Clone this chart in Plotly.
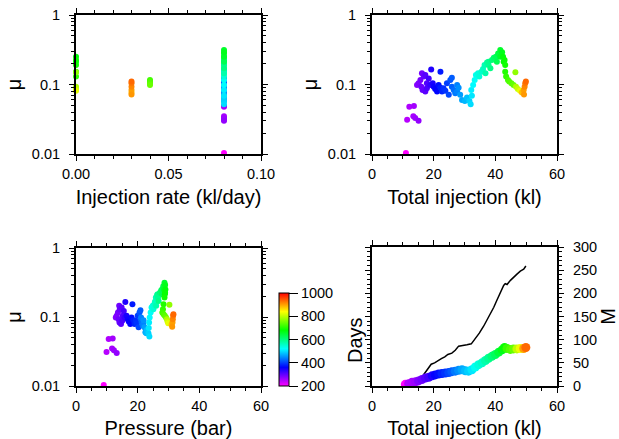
import plotly.graph_objects as go

# ---- event data (one entry per earthquake) ----
total_kl = [11.0, 11.4, 12.1, 13.6, 13.4, 14.0, 15.1, 14.6, 15.1, 15.7, 16.2, 16.8, 16.0, 16.4, 17.3, 17.3,
            17.8, 17.8, 18.4, 18.9, 19.2, 19.7, 20.0, 20.5, 21.1, 21.6, 22.2, 22.2, 22.7, 23.2, 23.8, 24.3,
            24.9, 25.4, 25.9, 25.9, 26.5, 27.0, 27.6, 27.6, 28.1, 28.6, 29.2, 30.1, 30.8, 31.6, 32.0, 32.4,
            32.2, 32.8, 33.3, 33.7, 34.4, 34.8, 35.5, 36.0, 36.5, 36.8, 37.3, 37.8, 37.8, 38.4, 38.9, 39.5,
            40.2, 40.5, 40.9, 41.6, 41.6, 42.2, 42.5, 42.7, 43.0, 43.2, 43.2, 43.5, 44.1, 44.5, 45.2, 45.9,
            46.5, 46.7, 47.3, 48.0, 48.6, 49.2, 49.3, 49.5, 49.7, 49.9]
mu = [0.0103, 0.031, 0.048, 0.049, 0.035, 0.033, 0.030, 0.098, 0.104, 0.116, 0.145, 0.13, 0.093, 0.083, 0.137, 0.079,
      0.104, 0.088, 0.122, 0.098, 0.165, 0.104, 0.093, 0.086, 0.079, 0.098, 0.153, 0.090, 0.079, 0.088, 0.081, 0.104,
      0.071, 0.116, 0.125, 0.093, 0.083, 0.075, 0.098, 0.079, 0.090, 0.071, 0.060, 0.058, 0.065, 0.058, 0.052, 0.069,
      0.083, 0.098, 0.116, 0.137, 0.145, 0.13, 0.153, 0.167, 0.191, 0.145, 0.208, 0.191, 0.213, 0.171, 0.225, 0.243,
      0.25, 0.213, 0.28, 0.314, 0.25, 0.29, 0.25, 0.213, 0.225, 0.191, 0.153, 0.13, 0.116, 0.11, 0.104, 0.098,
      0.15, 0.093, 0.086, 0.081, 0.077, 0.083, 0.072, 0.093, 0.104, 0.11]
pressure_bar = [9.0, 9.9, 10.6, 11.9, 11.7, 12.3, 13.2, 12.9, 13.2, 13.6, 14.0, 14.2, 13.8, 14.1, 14.8, 14.6,
                15.2, 15.0, 15.5, 15.8, 16.0, 16.4, 16.8, 17.1, 17.6, 18.0, 18.3, 18.6, 19.0, 19.4, 19.7, 20.0,
                20.3, 20.6, 20.9, 21.0, 21.3, 21.6, 21.1, 21.8, 21.9, 22.2, 22.5, 22.8, 23.0, 23.5, 23.8, 23.6,
                23.7, 23.9, 24.2, 24.5, 24.9, 25.1, 25.4, 25.6, 25.9, 26.0, 26.3, 26.6, 26.5, 26.8, 27.2, 27.6,
                27.9, 28.0, 28.3, 28.7, 28.5, 28.9, 29.0, 28.8, 28.9, 28.7, 28.4, 28.2, 28.0, 28.4, 28.8, 29.2,
                30.3, 29.5, 29.7, 29.9, 31.0, 31.3, 31.2, 31.4, 31.5, 31.6]
days = [200, 245, 250, 258, 256, 262, 268, 275, 280, 285, 290, 295, 292, 296, 305, 302,
        310, 312, 318, 325, 340, 345, 352, 358, 362, 368, 375, 378, 382, 388, 392, 398,
        405, 412, 418, 420, 428, 435, 440, 442, 450, 458, 465, 475, 482, 492, 498, 505,
        510, 518, 525, 532, 540, 545, 552, 560, 568, 572, 580, 588, 590, 598, 606, 615,
        625, 630, 640, 652, 655, 665, 675, 680, 685, 690, 700, 710, 720, 728, 735, 745,
        770, 790, 805, 825, 880, 900, 905, 915, 925, 935]
rate_kl_day = [0.08] * 70 + [0.0] * 6 + [0.04] * 4 + [0.0] * 4 + [0.03] * 6

# ---- bottom-right panel curves ----
curve_total = [10.8, 11.9, 13.0, 14.1, 15.1, 16.2, 17.3, 18.4, 19.5, 20.5, 21.6, 22.7, 23.8, 24.9, 25.9, 27.0,
               28.1, 29.2, 30.3, 31.3, 32.4, 33.5, 34.6, 35.7, 36.8, 37.8, 38.9, 40.0, 41.1, 42.2, 43.0, 43.8,
               44.9, 45.9, 47.0, 48.1, 49.2, 49.9]
curve_value = [3.6, 5, 8, 9, 11, 14, 17, 19, 22, 24, 26, 27, 28, 29, 31, 32,
               34, 35, 33, 32, 35, 41, 46, 50, 55, 60, 64, 68, 73, 78, 83, 81,
               79, 80, 80, 81, 81, 83]
curve_days = [200, 250, 255, 262, 280, 290, 305, 318, 342, 358, 368, 382, 392, 405, 418, 435,
              450, 465, 477, 490, 505, 528, 542, 555, 572, 588, 606, 622, 645, 665, 685, 715,
              732, 745, 798, 830, 900, 935]
m_total = [14.1, 15.1, 16.2, 17.3, 18.4, 19.2, 20.3, 21.4, 22.5, 23.6, 24.6, 25.9, 27.0, 28.1, 29.4, 30.8,
           32.2, 33.5, 34.8, 36.2, 37.3, 38.4, 39.5, 40.5, 41.6, 42.7, 43.2, 43.8, 44.9, 45.9, 46.7, 47.1,
           48.1, 49.2, 49.9]
m_value = [0, 9, 19, 30, 40, 47, 50, 55, 59, 63, 68, 71, 77, 86, 87, 89,
           91, 102, 114, 129, 142, 156, 170, 185, 203, 217, 221, 219, 228, 235, 241, 242,
           248, 252, 259]

colorbar_ticks = [200, 400, 600, 800, 1000]

rainbow = [[0.0, "rgb(255,0,255)"], [0.2, "rgb(0,0,255)"], [0.4, "rgb(0,255,255)"],
           [0.6, "rgb(0,255,0)"], [0.8, "rgb(255,255,0)"], [1.0, "rgb(255,0,0)"]]

W, H = 619, 439
FONT = "Liberation Sans, Arial, Helvetica, sans-serif"
TICK = 14.5
TITLE = 20


def xd(l, r):
    return [l / W, r / W]


def yd(top, bottom):
    return [1 - bottom / H, 1 - top / H]


def marker(c, size=6, showscale=False):
    m = dict(color=c, colorscale=rainbow, cmin=200, cmax=1000, size=size, line=dict(width=0))
    if showscale:
        m["showscale"] = True
        m["colorbar"] = dict(
            x=279 / W, xanchor="left", xpad=0, ypad=0,
            y=1 - 339.5 / H, yanchor="middle", len=93 / H, lenmode="fraction",
            thickness=10, thicknessmode="pixels", outlinewidth=1, outlinecolor="black",
            tickvals=colorbar_ticks, ticks="outside", ticklen=9, tickcolor="black",
            tickfont=dict(size=TICK, color="black", family=FONT),
        )
    return m


fig = go.Figure()
fig.add_trace(go.Scatter(x=rate_kl_day, y=mu, mode="markers", marker=marker(days), xaxis="x", yaxis="y",
                         cliponaxis=False))
fig.add_trace(go.Scatter(x=total_kl, y=mu, mode="markers", marker=marker(days), xaxis="x2", yaxis="y2"))
fig.add_trace(go.Scatter(x=pressure_bar, y=mu, mode="markers", marker=marker(days, showscale=True),
                         xaxis="x3", yaxis="y3"))
fig.add_trace(go.Scatter(x=m_total, y=m_value, mode="lines", line=dict(color="black", width=1.5),
                         xaxis="x4", yaxis="y4"))
fig.add_trace(go.Scatter(x=curve_total, y=curve_value, mode="markers", marker=marker(curve_days, size=9),
                         xaxis="x4", yaxis="y4"))

common = dict(showline=True, linewidth=2, linecolor="black", mirror="allticks", ticks="outside",
              ticklen=5, tickwidth=1, tickcolor="black", showgrid=False, zeroline=False,
              automargin=False, ticklabelstandoff=6,
              tickfont=dict(size=TICK, color="black", family=FONT))
tfont = dict(size=TITLE, color="black", family=FONT)


def xax(dom, anchor, rng, dtick, minor, title, standoff, fmt=None):
    d = dict(common, domain=dom, anchor=anchor, range=rng, dtick=dtick, tick0=0, ticklabelstandoff=1,
             minor=dict(dtick=minor, tick0=0, ticks="outside", ticklen=3, tickcolor="black"),
             title=dict(text=title, font=tfont, standoff=standoff))
    if fmt:
        d["tickformat"] = fmt
    return d


def ylog(dom, anchor):
    return dict(common, domain=dom, anchor=anchor, type="log", range=[-2, 0], dtick=1,
                minor=dict(dtick="D1", ticks="outside", ticklen=3, tickcolor="black"),
                title=dict(text="μ", font=tfont, standoff=5))


fig.update_layout(
    width=W, height=H, margin=dict(l=0, r=0, t=0, b=0), showlegend=False,
    plot_bgcolor="white", paper_bgcolor="white", font=dict(family=FONT, color="black"),
    xaxis=xax(xd(76, 261), "y", [0, 0.1], 0.05, 0.01, "Injection rate (kl/day)", 9, ".2f"),
    yaxis=ylog(yd(15, 154), "x"),
    xaxis2=xax(xd(372, 557), "y2", [0, 60], 20, 5, "Total injection (kl)", 9),
    yaxis2=ylog(yd(15, 154), "x2"),
    xaxis3=xax(xd(76, 261), "y3", [0, 60], 20, 5, "Pressure (bar)", 8),
    yaxis3=ylog(yd(248, 386), "x3"),
    xaxis4=xax(xd(372, 557), "y4", [0, 60], 20, 5, "Total injection (kl)", 8),
    yaxis4=dict(common, domain=yd(247, 386), anchor="x4", side="right", range=[0, 300], dtick=50,
                minor=dict(dtick=10, tick0=0, ticks="outside", ticklen=3, tickcolor="black"),
                title=dict(text="M", font=tfont, standoff=14)),
    annotations=[dict(text="Days", xref="paper", yref="paper", x=355 / W, y=1 - 340 / H,
                      xanchor="center", yanchor="middle", textangle=-90, showarrow=False,
                      font=tfont)],
)

fig.write_html("out.html", config={"displayModeBar": False},
               post_script="document.body.style.margin='0';")
